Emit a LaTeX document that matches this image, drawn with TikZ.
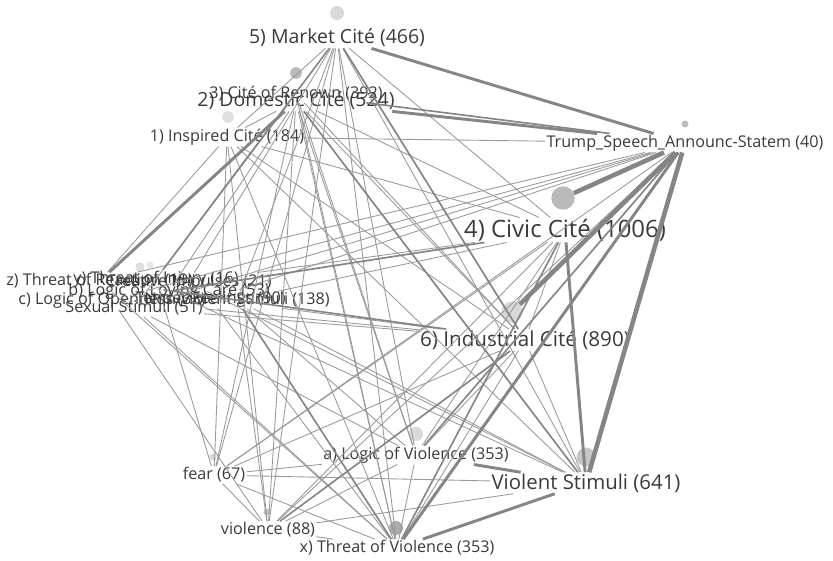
\documentclass[tikz,border=0pt]{standalone}
\usepackage{fontspec}
\setmainfont{Open Sans}
\definecolor{labelgray}{HTML}{3A3A3A}
\definecolor{edgegray}{HTML}{9A9A9A}
\definecolor{heavygray}{HTML}{858585}
\tikzset{
    lab/.style={text=labelgray, inner sep=1pt, font=\fontsize{13.8}{14}\selectfont},
    labM/.style={lab, font=\fontsize{17.4}{18}\selectfont},
    labL/.style={lab, font=\fontsize{16.6}{17}\selectfont},
    labXL/.style={lab, font=\fontsize{20.4}{21}\selectfont},
    dot/.style={circle, inner sep=0pt, minimum size=#1},
    thin edge/.style={draw=edgegray, line width=0.75pt},
    mid edge/.style={draw=heavygray, line width=1.4pt},
    thick edge/.style={draw=heavygray, line width=2.5pt},
    heavy edge/.style={draw=heavygray, line width=3.9pt},
}
\begin{document}
\begin{tikzpicture}[x=0.03cm, y=-0.03cm]
        \useasboundingbox (0,0) rectangle (833,561);
        % dots
        \node[dot=12, fill=gray!30] (mkt-dot) at (337,13) {};
        \node[dot=10, fill=gray!55] (dom-dot) at (296,73) {};
        \node[dot=10, fill=gray!25] (insp-dot) at (228,117) {};
        \node[dot=6, fill=gray!50] (trump-dot) at (685,124) {};
        \node[dot=20, fill=gray!55] (civ-dot) at (563,198) {};
        \node[dot=18, fill=gray!30] (ind-dot) at (512,312) {};
        \node[dot=8, fill=gray!25] (cl-dot) at (140,267) {};
        \node[dot=6, fill=gray!20] (cl2-dot) at (150,265) {};
        \node[dot=12, fill=gray!30] (logv-dot) at (416,434) {};
        \node[dot=16, fill=gray!45] (vstim-dot) at (586,457) {};
        \node[dot=6, fill=gray!30] (fear-dot) at (213,457) {};
        \node[dot=6, fill=gray!45] (viol-dot) at (267,512) {};
        \node[dot=12, fill=gray!65] (threat-dot) at (396,528) {};

        % labels
        \node[labL] (mkt) at (337,38) {5) Market Cité (466)};
        \node[lab] (ren) at (296,94) {3) Cité of Renown (392)};
        \node[labL] (dom) at (296,101) {2) Domestic Cité (524)};
        \node[lab] (insp) at (227,137) {1) Inspired Cité (184)};
        \node[lab] (trump) at (685,143) {Trump\_Speech\_Announc-Statem (40)};
        \node[labXL] (civ) at (565,230) {4) Civic Cité (1006)};
        \node[labXL, font=\fontsize{17.6}{18}\selectfont] (ind) at (525,340) {6) Industrial Cité (890)};
        \node[lab] (logv) at (416,455) {a) Logic of Violence (353)};
        \node[labM] (vstim) at (586,483) {Violent Stimuli (641)};
        \node[lab] (fear) at (214,475) {fear (67)};
        \node[lab] (viol) at (268,530) {violence (88)};
        \node[lab] (threat) at (397,548) {x) Threat of Violence (353)};
        \node[lab, anchor=west] (zthr) at (5,281) {z) Threat of Reaction (19)};
        \node[lab, anchor=west] (ythr) at (72,279) {y) Threat of Injury (16)};
        \node[lab, anchor=east] (cre) at (273,282) {Creative Impulses (21)};
        \node[lab, anchor=west] (bcare) at (67,291) {b) Logic of Loving Care (53)};
        \node[lab, anchor=west] (clog) at (17,300) {c) Logic of Openness (33)};
        \node[lab, anchor=east] (feel) at (287,299) {Tender Feelings (90)};
        \node[lab, anchor=east] (nonv) at (331,300) {Non-violent Stimuli (138)};
        \node[lab, anchor=west] (sex) at (64,308) {Sexual Stimuli (51)};

        % edges
        \foreach \a/\b in {mkt/insp, mkt/cre, mkt/civ, mkt/ind, mkt/logv, mkt/vstim, mkt/threat, mkt/viol,
            mkt/fear, mkt/nonv, dom/insp, dom/bcare, dom/civ, dom/ind, dom/logv, dom/vstim, dom/threat,
            dom/viol, dom/fear, ren/ind, ren/threat, ren/sex, ren/logv, insp/trump, insp/civ, insp/zthr,
            insp/fear, insp/viol, insp/ind, insp/threat, insp/vstim, trump/zthr, trump/clog, trump/sex,
            trump/feel, trump/viol, trump/fear, civ/cre, civ/bcare, civ/nonv, civ/logv, civ/fear, civ/viol,
            civ/ind, ind/clog, ind/sex, ind/logv, ind/fear, ind/threat, ind/vstim, ind/feel, logv/fear,
            logv/threat, logv/viol, logv/sex, logv/nonv, fear/vstim, fear/viol, fear/threat, viol/vstim,
            viol/threat, vstim/cre, vstim/bcare, vstim/nonv, threat/zthr, threat/sex, threat/feel,
            fear/ythr, viol/clog, viol/nonv}
            \draw[thin edge] (\a) -- (\b);
        \foreach \a/\b in {mkt/ythr, ren/trump, trump/logv, ind/viol, civ/clog, civ/threat, mkt/ind,
            threat/nonv, dom/vstim, ind/zthr}
            \draw[mid edge] (\a) -- (\b);
        \foreach \a/\b in {mkt/trump, dom/trump, trump/threat, threat/vstim, logv/vstim, civ/vstim, dom/zthr}
            \draw[thick edge] (\a) -- (\b);
        \foreach \a/\b in {trump/civ-dot, trump/ind-dot, trump/vstim}
            \draw[heavy edge] (\a) -- (\b);
    \end{tikzpicture}
\end{document}
